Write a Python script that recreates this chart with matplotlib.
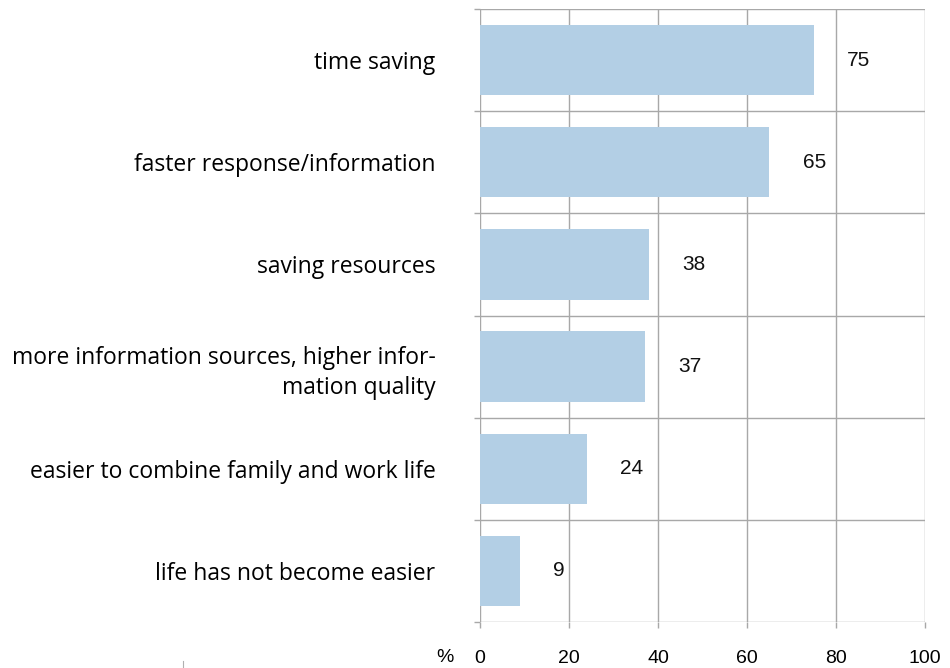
import matplotlib
matplotlib.use('Agg')
import matplotlib.pyplot as plt
from matplotlib.lines import Line2D

categories = ['time saving',
              'faster response/information',
              'saving resources',
              'more information sources, higher infor-\nmation quality',
              'easier to combine family and work life',
              'life has not become easier']
values = [75, 65, 38, 37, 24, 9]
xticks = [0, 20, 40, 60, 80, 100]

fig = plt.figure(figsize=(9.5, 6.68), dpi=100)
ax = fig.add_axes([480 / 950, 1 - 622 / 668, 445 / 950, 613 / 668])

n = len(categories)
ypos = list(range(n))
ax.barh(ypos, values, height=0.69, color='#b3cfe5', zorder=2)
ax.set_xlim(0, 100)
ax.set_ylim(n - 0.5, -0.5)

# value labels
for y, v in zip(ypos, values):
    ax.text(v + 7.5, y, str(v), ha='left', va='center', fontsize=15,
            family='Liberation Sans', color='#111111')

# grid: vertical at ticks, horizontal at category boundaries
ax.set_xticks(xticks)
ax.set_xticklabels([str(t) for t in xticks], family='Liberation Sans', fontsize=14)
ax.set_yticks([i - 0.5 for i in range(n + 1)])
ax.set_yticklabels([])
ax.set_yticks(ypos, minor=True)
ax.set_yticklabels(categories, minor=True, family='Open Sans', fontsize=16.5,
                   ha='right', linespacing=1.35)
ax.tick_params(axis='y', which='minor', length=0, pad=32)
ax.tick_params(axis='y', which='major', length=4.5, color='#a8a8a8', width=1)
ax.tick_params(axis='x', length=4.5, color='#a8a8a8', width=1, pad=16)
ax.grid(True, color='#a8a8a8', linewidth=1, zorder=1)
ax.set_axisbelow(True)
for s in ax.spines.values():
    s.set_visible(False)

fig.text(445 / 950, 1 - 658 / 668, '%', ha='center', va='center',
         family='Liberation Sans', fontsize=14)
fig.add_artist(Line2D([183 / 950, 183 / 950], [1 - 667 / 668, 1 - 661 / 668],
                      color='#b0b0b0', linewidth=0.8))

fig.savefig('out.png', dpi=100)
